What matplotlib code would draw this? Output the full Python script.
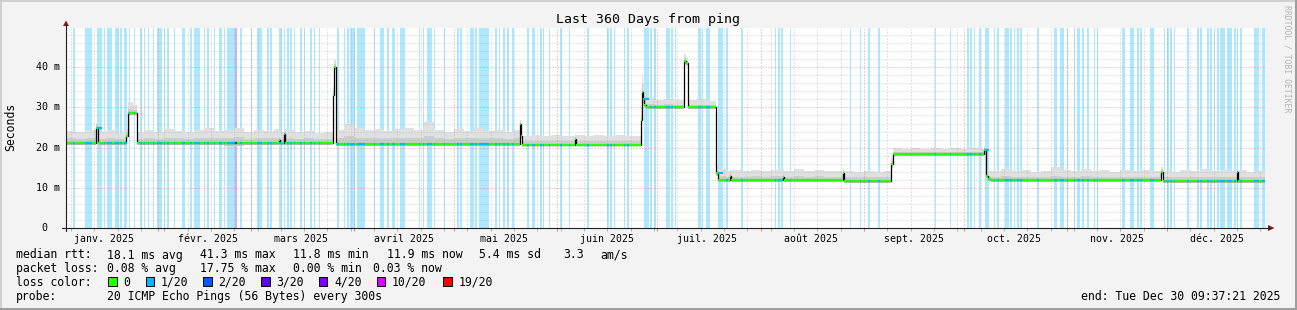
"""SmokePing style 360-day ping graph (rrdtool look) redrawn in matplotlib.
x values are day-of-year 2025 (0 = Jan 1), y values are milliseconds."""
import datetime as dt
import numpy as np
import matplotlib
matplotlib.use("Agg")
import matplotlib.pyplot as plt
import matplotlib.dates as mdates
import matplotlib.transforms as mtrans
from matplotlib.lines import Line2D
from matplotlib.patches import Rectangle, Polygon
from matplotlib.ticker import MultipleLocator, NullFormatter

W, H = 1297, 310
MONO = "DejaVu Sans Mono"
START = dt.datetime(2025, 1, 4, 9, 37, 21)
END = dt.datetime(2025, 12, 30, 9, 37, 21)

# median rtt (ms) and smoke bounds, step-post from each DOY entry
DOY = [3.4, 6.4, 9.4, 12.6, 13.0, 15.4, 18.4, 21.5, 22.2, 23.5,
       24.75, 27, 30, 33, 36, 39, 42, 45, 48, 51,
       54, 57, 60, 63, 66, 67.5, 67.8, 68.8, 69.3, 72,
       75, 78, 81, 83.7, 84.0, 84.65, 87, 90, 93, 96,
       99, 102, 105, 108, 111, 114, 117, 120, 123, 126,
       129, 132, 135, 138, 139.8, 140.1, 140.4, 143, 146, 149,
       152, 155, 156.3, 156.6, 159, 162, 165, 168, 171, 174,
       176.1, 176.4, 176.7, 177.0, 177.5, 180, 183, 186, 189.05, 189.6,
       190.25, 193, 196, 198.7, 199.2, 202, 202.8, 203.1, 206, 209,
       212, 215, 218.8, 219.1, 222, 225, 228, 231, 234, 236.7,
       237.0, 240, 243, 246, 249, 251.1, 251.6, 254, 257, 260,
       263, 266, 269, 272, 275, 278, 279.1, 279.6, 280.3, 281.0,
       284, 287, 290, 293, 296, 299, 302, 305, 308, 311,
       314, 317, 320, 323, 326, 329, 332.2, 332.75, 335, 338,
       341, 344, 347, 350, 353, 354.9, 355.35, 358, 361, 363.4]
MEDIAN = [21.1, 21.1, 21.1, 25.0, 21.1, 21.1, 21.1, 23.0, 28.5, 28.5,
          21.1, 21.1, 21.1, 21.1, 21.1, 21.1, 21.1, 21.1, 21.1, 21.1,
          21.1, 21.1, 21.1, 21.1, 21.1, 22.0, 21.1, 23.5, 21.1, 21.1,
          21.1, 21.1, 21.1, 33.0, 40.0, 21.0, 21.0, 21.0, 21.0, 21.0,
          21.0, 21.0, 21.0, 21.0, 21.0, 21.0, 21.0, 21.0, 21.0, 21.0,
          21.0, 21.0, 21.0, 21.0, 26.0, 23.0, 20.7, 20.7, 20.7, 20.7,
          20.7, 20.7, 22.2, 20.7, 20.7, 20.7, 20.7, 20.7, 20.7, 20.7,
          27.0, 33.9, 32.0, 30.6, 30.0, 30.0, 30.0, 30.0, 41.5, 41.0,
          30.0, 30.0, 30.0, 13.6, 12.0, 12.0, 13.0, 12.0, 12.0, 12.0,
          12.0, 12.0, 12.8, 12.0, 12.0, 12.0, 12.0, 12.0, 12.0, 13.8,
          11.8, 11.8, 11.8, 11.8, 11.8, 16.0, 18.3, 18.3, 18.3, 18.3,
          18.3, 18.3, 18.3, 18.3, 18.3, 18.3, 19.5, 13.0, 12.3, 11.9,
          11.9, 11.9, 11.9, 11.9, 11.9, 11.9, 11.9, 11.9, 11.9, 11.9,
          11.9, 11.9, 11.9, 11.9, 11.9, 11.9, 14.0, 11.8, 11.8, 11.8,
          11.8, 11.8, 11.8, 11.8, 11.8, 14.0, 11.8, 11.8, 11.8, 11.8]
SMOKE_HI = [24.2, 23.8, 24.4, 26.2, 24.0, 24.3, 23.7, 24.6, 31.3, 30.6,
            24.0, 24.5, 23.9, 24.6, 24.2, 23.8, 24.4, 24.8, 24.1, 24.3,
            24.9, 23.9, 24.5, 24.2, 24.6, 24.2, 24.0, 24.6, 24.3, 23.8,
            24.1, 23.7, 24.0, 35.0, 41.8, 24.5, 25.8, 24.9, 24.4, 24.7,
            24.2, 24.6, 24.9, 24.3, 26.4, 24.5, 24.0, 24.6, 24.2, 24.8,
            24.1, 24.5, 23.9, 24.3, 27.0, 24.5, 23.0, 23.2, 22.8, 23.1,
            22.9, 23.0, 23.3, 23.1, 22.8, 23.1, 22.9, 23.2, 22.9, 23.0,
            30.0, 38.0, 36.0, 33.5, 32.4, 31.8, 32.2, 31.9, 43.2, 42.4,
            31.8, 32.0, 31.7, 15.6, 14.6, 14.3, 14.8, 14.4, 14.1, 14.5,
            14.2, 14.4, 14.6, 14.3, 14.6, 14.2, 14.4, 14.1, 14.3, 14.9,
            14.2, 14.0, 14.3, 13.9, 14.1, 17.5, 19.9, 19.6, 19.9, 19.7,
            20.0, 19.6, 19.8, 19.7, 19.9, 19.6, 20.4, 14.6, 14.2, 14.3,
            14.6, 14.1, 14.4, 14.0, 14.3, 15.3, 14.5, 14.2, 14.6, 14.1,
            14.4, 14.0, 14.5, 14.2, 14.4, 14.1, 15.3, 14.3, 14.0, 14.4,
            14.1, 14.6, 14.2, 14.5, 14.1, 15.0, 14.4, 14.0, 14.3, 14.3]
SMOKE_MID = [22.3, 22.2, 22.4, 25.6, 22.2, 22.3, 22.1, 23.6, 29.5, 29.3,
             22.2, 22.4, 22.2, 22.5, 22.3, 22.2, 22.4, 22.5, 22.3, 22.4,
             22.6, 22.2, 22.4, 22.3, 22.4, 22.6, 22.2, 23.9, 22.3, 22.1,
             22.3, 22.1, 22.2, 33.8, 40.7, 22.4, 22.8, 22.5, 22.3, 22.4,
             22.3, 22.4, 22.5, 22.3, 22.8, 22.4, 22.2, 22.4, 22.3, 22.5,
             22.3, 22.4, 22.2, 22.3, 26.4, 23.5, 21.6, 21.7, 21.6, 21.7,
             21.6, 21.6, 22.6, 21.7, 21.6, 21.7, 21.6, 21.7, 21.6, 21.6,
             28.0, 35.5, 33.5, 31.7, 30.8, 30.7, 30.8, 30.7, 42.2, 41.6,
             30.7, 30.7, 30.6, 14.3, 12.9, 12.8, 13.6, 12.8, 12.8, 12.9,
             12.8, 12.9, 13.4, 12.8, 12.9, 12.8, 12.9, 12.8, 12.8, 14.2,
             12.7, 12.6, 12.7, 12.6, 12.6, 16.6, 18.9, 18.8, 18.9, 18.8,
             18.9, 18.8, 18.9, 18.8, 18.9, 18.8, 19.9, 13.6, 13.0, 12.8,
             12.9, 12.7, 12.8, 12.7, 12.8, 13.0, 12.8, 12.7, 12.9, 12.7,
             12.8, 12.7, 12.8, 12.7, 12.8, 12.7, 14.6, 12.7, 12.6, 12.7,
             12.6, 12.8, 12.6, 12.7, 12.6, 14.4, 12.7, 12.6, 12.7, 12.7]
SMOKE_LO = [20.6, 20.6, 20.6, 24.4, 20.6, 20.6, 20.6, 22.6, 28.0, 28.0,
            20.6, 20.6, 20.6, 20.6, 20.6, 20.6, 20.6, 20.6, 20.6, 20.5,
            20.5, 20.6, 20.6, 20.6, 20.6, 21.2, 20.6, 22.5, 20.6, 20.6,
            20.6, 20.6, 20.6, 32.0, 39.4, 20.5, 20.5, 20.5, 20.5, 20.5,
            20.5, 20.5, 20.5, 20.5, 20.5, 20.5, 20.5, 20.5, 20.5, 20.5,
            20.5, 20.5, 20.5, 20.5, 25.0, 22.4, 20.3, 20.3, 20.3, 20.3,
            20.3, 20.3, 21.5, 20.3, 20.3, 20.3, 20.3, 20.3, 20.3, 20.3,
            26.5, 33.0, 31.2, 30.0, 29.5, 29.5, 29.5, 29.5, 40.8, 40.4,
            29.5, 29.5, 29.5, 13.0, 11.5, 11.5, 12.5, 11.5, 11.5, 11.5,
            11.5, 11.5, 12.2, 11.5, 11.5, 11.5, 11.5, 11.5, 11.5, 13.0,
            11.3, 11.3, 11.3, 11.3, 11.3, 15.0, 17.9, 17.9, 17.9, 17.9,
            17.9, 17.9, 17.9, 17.9, 17.9, 17.9, 18.8, 12.4, 11.8, 11.4,
            11.4, 11.4, 11.4, 11.4, 11.4, 11.4, 11.4, 11.4, 11.4, 11.4,
            11.4, 11.4, 11.4, 11.4, 11.4, 11.4, 13.2, 11.3, 11.3, 11.3,
            11.3, 11.3, 11.3, 11.3, 11.3, 13.2, 11.3, 11.3, 11.3, 11.3]

# loss background stripes (1/20 loss), day-of-year start / end
STRIPE_START = [5.7, 9.2, 12.8, 15.0, 15.8, 18.2, 19.7, 20.9, 22.3, 23.8,
                25.7, 26.9, 28.2, 29.6, 30.8, 32.8, 33.8, 35.9, 38.3, 40.7,
                41.9, 44.9, 45.8, 47.9, 49.4, 50.9, 51.8, 55.7, 59.0, 60.8,
                63.8, 64.7, 67.4, 68.9, 69.8, 70.7, 71.9, 73.7, 74.9, 76.7,
                77.9, 79.4, 84.8, 86.9, 87.8, 88.7, 90.8, 95.9, 97.7, 99.8,
                101.3, 103.7, 109.4, 110.6, 111.8, 113.9, 116.9, 120.8, 121.7, 124.7,
                126.2, 127.4, 132.2, 133.4, 134.6, 135.8, 137.3, 141.8, 143.3, 145.7,
                146.6, 148.4, 151.7, 154.4, 159.8, 165.8, 166.7, 167.9, 170.9, 171.8,
                176.9, 178.7, 179.9, 183.5, 185.0, 186.2, 193.1, 194.3, 195.5, 199.1,
                201.5, 206.0, 216.2, 217.1, 218.0, 220.7, 238.7, 241.7, 244.1, 247.1,
                264.2, 268.7, 273.8, 274.7, 275.9, 277.4, 279.2, 281.9, 282.8, 285.2,
                286.7, 287.9, 288.8, 289.7, 294.8, 300.0, 301.8, 303.9, 306.0, 306.9,
                308.4, 309.9, 312.0, 312.9, 320.4, 322.8, 324.9, 325.8, 328.8, 333.0,
                333.9, 334.8, 336.0, 339.9, 342.9, 343.8, 345.9, 346.8, 348.0, 348.9,
                349.8, 351.9, 354.0, 354.9, 355.8, 360.0, 362.4]
STRIPE_END = [6.1, 11.3, 14.3, 15.3, 17.3, 19.4, 20.3, 21.8, 22.7, 24.2,
              26.4, 27.2, 28.5, 29.9, 32.3, 33.1, 34.4, 36.2, 39.2, 41.3,
              43.7, 45.2, 46.4, 48.2, 50.3, 51.2, 54.2, 56.3, 59.3, 62.3,
              64.4, 65.3, 68.3, 69.2, 70.4, 71.3, 72.2, 74.3, 75.2, 77.3,
              78.2, 79.7, 85.4, 87.2, 88.4, 90.2, 93.2, 96.2, 98.9, 100.4,
              102.2, 105.2, 109.7, 110.9, 113.3, 114.2, 117.2, 121.4, 122.3, 125.9,
              126.8, 130.4, 132.8, 133.7, 135.2, 136.4, 137.9, 142.4, 144.2, 146.3,
              146.9, 148.7, 152.3, 154.7, 160.4, 166.4, 167.3, 168.2, 171.2, 172.4,
              178.4, 179.3, 180.5, 184.7, 185.6, 186.5, 194.0, 194.6, 196.7, 200.6,
              202.1, 206.6, 216.5, 217.7, 218.6, 221.0, 239.0, 242.0, 244.7, 247.7,
              264.5, 269.0, 274.4, 275.3, 276.2, 278.0, 280.4, 282.2, 283.4, 286.4,
              287.3, 288.2, 289.4, 290.3, 295.4, 300.9, 303.0, 304.2, 306.3, 307.8,
              309.0, 310.5, 312.3, 313.2, 321.3, 324.0, 325.5, 326.4, 330.0, 333.3,
              334.5, 335.4, 336.3, 340.5, 343.5, 344.4, 346.5, 347.4, 348.3, 349.5,
              351.3, 353.4, 354.6, 355.2, 356.4, 361.5, 363.4]
# heavier loss stripes
HEAVY_START = [54.2]
HEAVY_END = [54.8]
HEAVY_LOSS = [3]

LOSS_LEVELS = [0, 1, 2, 3, 4, 10, 19]
LOSS_LABELS = ["0", "1/20", "2/20", "3/20", "4/20", "10/20", "19/20"]
LOSS_COLORS = ["#26ff00", "#00b8ff", "#0059ff", "#5e00ff", "#7e00ff", "#dd00ff", "#ff0000"]

Y_TICKS = [0, 10, 20, 30, 40]
Y_LABELS = ["0", "10 m", "20 m", "30 m", "40 m"]
MONTH_LABELS = ["janv. 2025", "févr. 2025", "mars 2025", "avril 2025", "mai 2025", "juin 2025",
                "juil. 2025", "août 2025", "sept. 2025", "oct. 2025", "nov. 2025", "déc. 2025"]

LEGEND_RTT = ["median rtt:", "18.1 ms avg", "41.3 ms max", "11.8 ms min", "11.9 ms now",
              "5.4 ms sd", "3.3", "am/s"]
LEGEND_LOSS = ["packet loss:", "0.08 % avg", "17.75 % max", "0.00 % min", "0.03 % now"]
PROBE = "20 ICMP Echo Pings (56 Bytes) every 300s"
END_TEXT = "end: Tue Dec 30 09:37:21 2025"


def fx(x):
    return x / W


def fy(y):
    return 1 - y / H


def color_of(level):
    return LOSS_COLORS[LOSS_LEVELS.index(level)]


fig = plt.figure(figsize=(W / 100, H / 100), dpi=100, facecolor="#f3f3f3")
ax = fig.add_axes([fx(65.6), fy(228), 1199.5 / W, (228 - 27.7) / H])
ax.set_facecolor("white")
for s in ax.spines.values():
    s.set_visible(False)
year0 = mdates.date2num(dt.datetime(2025, 1, 1))
ax.set_xlim(mdates.date2num(START), mdates.date2num(END))
ax.set_ylim(0, 49.85)

x = year0 + np.array(DOY)
med = np.array(MEDIAN)

# loss background
for a, b in zip(STRIPE_START, STRIPE_END):
    ax.axvspan(year0 + a, year0 + b, color=color_of(1), alpha=0.32, lw=0, zorder=1)
for a, b, lv in zip(HEAVY_START, HEAVY_END, HEAVY_LOSS):
    ax.axvspan(year0 + a, year0 + b, color=color_of(lv), alpha=0.32, lw=0, zorder=1)

# smoke
ax.fill_between(x, SMOKE_LO, SMOKE_HI, step="post", color="#e0e0e0", lw=0, zorder=2)
ax.fill_between(x, SMOKE_LO, SMOKE_MID, step="post", color="#cdcdcd", lw=0, zorder=2.1)

# median, black connectors then loss coloured flats
ax.plot(x, med, drawstyle="steps-post", color="black", lw=0.9, zorder=4)
ax.hlines(med[:-1], x[:-1], x[1:], colors=color_of(0), lw=1.6, zorder=5)
for starts, ends, lvls in [(STRIPE_START, STRIPE_END, [1] * len(STRIPE_START)),
                           (HEAVY_START, HEAVY_END, HEAVY_LOSS)]:
    for a, b, lv in zip(starts, ends, lvls):
        i = max(np.searchsorted(DOY, a, side="right") - 1, 0)
        ax.hlines(med[i], year0 + a, year0 + b, colors=color_of(lv), lw=1.6, zorder=5.5)

# grid (rrdtool paints it on top), faint dots
ax.yaxis.set_major_locator(MultipleLocator(10))
ax.yaxis.set_minor_locator(MultipleLocator(2))
ax.xaxis.set_major_locator(mdates.MonthLocator())
ax.xaxis.set_minor_locator(mdates.WeekdayLocator(byweekday=mdates.MO))
ax.xaxis.set_major_formatter(NullFormatter())
ax.yaxis.set_major_formatter(NullFormatter())
ax.grid(which="minor", color="#a8a8a8", alpha=0.6, lw=0.72, ls=(0, (1, 2)), zorder=6)
ax.grid(which="major", color="#dc7070", alpha=0.65, lw=0.72, ls=(0, (1, 2)), zorder=6.1)
ax.set_axisbelow(False)
ax.tick_params(axis="y", which="both", length=0)
ax.tick_params(axis="x", which="minor", length=2, width=0.7, color="#b0b0b0")
ax.tick_params(axis="x", which="major", length=2, width=0.7, color="#e08080")

# month labels at month start + 15 days
mon_tr = mtrans.blended_transform_factory(ax.transData, fig.transFigure)
for i, lab in enumerate(MONTH_LABELS):
    ax.text(mdates.date2num(dt.datetime(2025, i + 1, 16)), fy(241.5), lab, family=MONO,
            size=7.1, ha="center", va="baseline", transform=mon_tr, clip_on=False)

# y labels
ylab_tr = mtrans.blended_transform_factory(fig.transFigure, ax.transData)
for v, lab in zip(Y_TICKS, Y_LABELS):
    fig.text(fx(60.5 if " " in lab else 47.5), v, lab, family=MONO, size=7.2,
             ha="right", va="center", transform=ylab_tr)

# axes with arrows
ax_col, arr_col = "#202020", "#8b1a1a"
fig.add_artist(Line2D([fx(66), fx(66)], [fy(231), fy(25)], color=ax_col, lw=0.8))
fig.add_artist(Line2D([fx(62), fx(1270)], [fy(228), fy(228)], color=ax_col, lw=0.8))
fig.add_artist(Polygon([[fx(63), fy(26)], [fx(69), fy(26)], [fx(66), fy(20.5)]],
                       closed=True, color=arr_col, lw=0))
fig.add_artist(Polygon([[fx(1268), fy(225)], [fx(1268), fy(231)], [fx(1274.5), fy(228)]],
                       closed=True, color=arr_col, lw=0))

# titles
fig.text(fx(648.5), fy(23), "Last 360 Days from ping", family=MONO, size=9.5,
         ha="center", va="baseline")
fig.text(fx(10.5), fy(127), "Seconds", family=MONO, size=8.3, rotation=90,
         ha="center", va="center")
fig.text(fx(1287), fy(5), "RRDTOOL / TOBI OETIKER", family=MONO, size=5.9, rotation=-90,
         ha="center", va="top", color="#b4b4b4")

# legend
rtt_x = [16, 107.3, 200, 293.3, 386.7, 479, 563.3, 600]
for xx, s in zip(rtt_x, LEGEND_RTT):
    fig.text(fx(xx), fy(258.5), s, family=MONO, size=8.3, va="baseline")
loss_x = [16, 107.3, 200, 293.3, 372.7]
for xx, s in zip(loss_x, LEGEND_LOSS):
    fig.text(fx(xx), fy(272.2), s, family=MONO, size=8.3, va="baseline")
fig.text(fx(16), fy(285.9), "loss color:", family=MONO, size=8.3, va="baseline")
box_x = [108.3, 145.7, 203.3, 261.3, 319, 377, 443.3]
for bx, c, lab in zip(box_x, LOSS_COLORS, LOSS_LABELS):
    fig.add_artist(Rectangle((fx(bx), fy(285.7)), 8.3 / W, 8.3 / H, facecolor=c,
                             edgecolor="black", lw=0.7, transform=fig.transFigure))
    fig.text(fx(bx + 15), fy(285.9), lab, family=MONO, size=8.3, va="baseline")
fig.text(fx(16), fy(299.6), "probe:", family=MONO, size=8.3, va="baseline")
fig.text(fx(107.3), fy(299.6), PROBE, family=MONO, size=8.3, va="baseline")
fig.text(fx(1280), fy(299.6), END_TEXT, family=MONO, size=8.3, va="baseline", ha="right")

# frame shading
fig.add_artist(Rectangle((0, fy(2)), 1, 2 / H, color="#d0d0d0", lw=0))
fig.add_artist(Rectangle((0, 0), 2 / W, 1, color="#d0d0d0", lw=0))
fig.add_artist(Rectangle((0, 0), 1, 2.5 / H, color="#9e9e9e", lw=0))
fig.add_artist(Rectangle((fx(1294.5), 0), 2.5 / W, 1, color="#9e9e9e", lw=0))

fig.savefig("out.png", dpi=100, facecolor=fig.get_facecolor())
